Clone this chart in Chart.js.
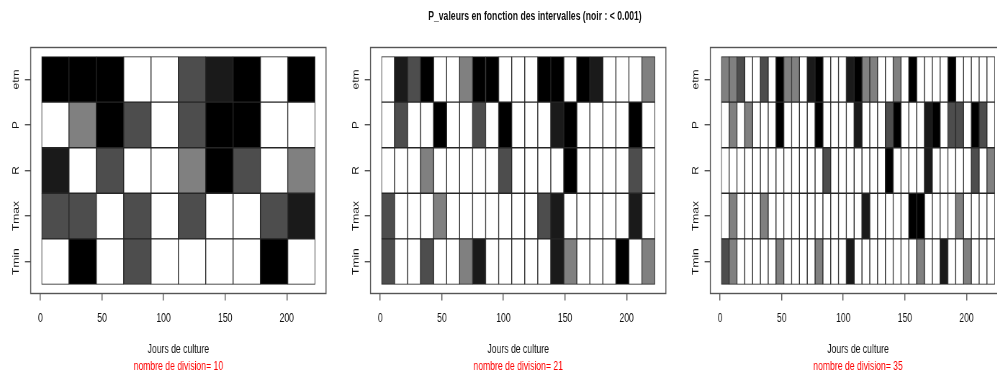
<!DOCTYPE html>
<html>
<head>
<meta charset="utf-8">
<title>P_valeurs en fonction des intervalles</title>
<script src="https://cdn.jsdelivr.net/npm/chart.js@4.4.1/dist/chart.umd.min.js"></script>
<style>
  html, body { margin: 0; padding: 0; width: 997px; height: 376px; overflow: hidden; background: #fff; }
  #stage { position: absolute; left: 0; top: 0; width: 1416px; height: 376px;
           transform: scaleX(0.72); transform-origin: 0 0; }
  #main-title { position: absolute; left: 0; top: 9px; width: 1486px; text-align: center;
                font: bold 12px "Liberation Sans", Arial, sans-serif; line-height: 14px; color: #111; }
  .panel { position: absolute; top: 0; width: 472px; height: 376px; }
</style>
</head>
<body>
<div id="stage">
  <div id="main-title">P_valeurs en fonction des intervalles (noir : &lt; 0.001)</div>
  <div class="panel" style="left:0px"><canvas id="c10" width="472" height="376"></canvas></div>
  <div class="panel" style="left:472px"><canvas id="c21" width="472" height="376"></canvas></div>
  <div class="panel" style="left:944px"><canvas id="c35" width="472" height="376"></canvas></div>
</div>
<script>
// Variables tested, top to bottom
const ROWS = ['etm', 'P', 'R', 'Tmax', 'Tmin'];
const X_TICKS = [0, 50, 100, 150, 200];
// Growing season (days) split into equal intervals
const DAY_FIRST = 1;
const DAY_LAST = 223;

// Significance class of each interval:
// 0: p >= 0.1, 1: p < 0.1, 2: p < 0.05, 3: p < 0.01, 4: p < 0.001 (noir)
const CLASS_COLORS = ['#ffffff', '#808080', '#4d4d4d', '#1a1a1a', '#000000'];

// 10 divisions
const etm_10  = [4, 4, 4, 0, 0, 2, 3, 4, 0, 4];
const P_10    = [0, 1, 4, 2, 0, 2, 4, 4, 0, 0];
const R_10    = [3, 0, 2, 0, 0, 1, 4, 2, 0, 1];
const Tmax_10 = [2, 2, 0, 2, 0, 2, 0, 0, 2, 3];
const Tmin_10 = [0, 4, 0, 2, 0, 0, 0, 0, 4, 0];

// 21 divisions
const etm_21  = [0, 3, 2, 4, 0, 0, 1, 4, 4, 0, 0, 0, 4, 4, 0, 4, 3, 0, 0, 0, 1];
const P_21    = [0, 2, 0, 0, 4, 0, 0, 2, 0, 4, 0, 0, 0, 3, 4, 0, 0, 0, 0, 4, 0];
const R_21    = [0, 0, 0, 1, 0, 0, 0, 0, 0, 2, 0, 0, 0, 0, 4, 0, 0, 0, 0, 2, 0];
const Tmax_21 = [2, 0, 0, 0, 1, 0, 0, 0, 0, 0, 0, 0, 2, 3, 0, 0, 0, 0, 0, 3, 0];
const Tmin_21 = [2, 0, 0, 2, 0, 0, 1, 3, 0, 0, 0, 0, 0, 3, 1, 0, 0, 0, 4, 0, 1];

// 35 divisions
const etm_35  = [1, 1, 2, 0, 0, 2, 0, 4, 1, 1, 0, 3, 4, 0, 0, 0, 3, 4, 1, 1, 0, 0, 1, 0, 4, 0, 0, 0, 0, 4, 0, 0, 0, 0, 0];
const P_35    = [0, 1, 0, 1, 0, 0, 0, 4, 0, 0, 0, 0, 4, 0, 0, 0, 0, 3, 0, 0, 0, 2, 4, 0, 0, 0, 3, 4, 0, 2, 2, 0, 4, 2, 0];
const R_35    = [0, 0, 0, 0, 0, 0, 0, 0, 0, 0, 0, 0, 0, 2, 0, 0, 0, 0, 0, 0, 0, 4, 0, 0, 0, 0, 3, 0, 0, 0, 0, 0, 2, 0, 1];
const Tmax_35 = [0, 1, 0, 0, 0, 1, 0, 0, 0, 0, 0, 0, 0, 0, 0, 0, 0, 0, 3, 0, 0, 0, 0, 0, 4, 4, 0, 0, 0, 0, 1, 0, 0, 0, 0];
const Tmin_35 = [2, 1, 0, 0, 0, 0, 0, 1, 0, 0, 0, 0, 1, 0, 0, 0, 3, 0, 0, 0, 0, 0, 0, 0, 0, 1, 0, 0, 3, 0, 0, 1, 0, 0, 0];

Chart.defaults.font.family = '"Liberation Sans", Arial, sans-serif';
Chart.defaults.font.size = 12;
Chart.defaults.color = '#111';

// Plot frame around the whole plotting region
const frame = {
  id: 'frame',
  afterDraw(chart) {
    const { ctx, chartArea: a } = chart;
    ctx.save();
    ctx.strokeStyle = '#555';
    ctx.lineWidth = 1.4;
    ctx.strokeRect(a.left, a.top, a.right - a.left, a.bottom - a.top);
    ctx.restore();
  }
};

function drawPanel(canvasId, rowValues) {
  const divisions = rowValues[0].length;
  const step = (DAY_LAST - DAY_FIRST) / divisions;
  const datasets = [];
  for (let j = 0; j < divisions; j++) {
    const x0 = DAY_FIRST + j * step;
    const x1 = DAY_FIRST + (j + 1) * step;
    datasets.push({
      data: ROWS.map((name, i) => ({ y: i + 1, x: [x0, x1] })),
      backgroundColor: rowValues.map(v => CLASS_COLORS[v[j]]),
      borderColor: '#262626',
      borderWidth: 1,
      borderSkipped: false,
      grouped: false,
      barPercentage: 1,
      categoryPercentage: 1
    });
  }
  const pad = 0.04 * (DAY_LAST - DAY_FIRST);

  new Chart(document.getElementById(canvasId), {
    type: 'bar',
    data: { datasets },
    options: {
      indexAxis: 'y',
      responsive: false,
      animation: false,
      events: [],
      layout: { padding: { left: 0, right: 19.2, top: 47.5, bottom: 0 } },
      plugins: {
        legend: { display: false },
        tooltip: { enabled: false },
        subtitle: {
          display: true,
          position: 'bottom',
          fullSize: false,
          text: 'nombre de division= ' + divisions,
          color: '#ff0000',
          font: { size: 12, weight: 'normal' },
          padding: { top: 0, bottom: 2.5 }
        }
      },
      scales: {
        x: {
          type: 'linear',
          min: DAY_FIRST - pad,
          max: DAY_LAST + pad,
          offset: false,
          afterBuildTicks: s => { s.ticks = X_TICKS.map(v => ({ value: v })); },
          afterFit: s => { s.height = 65.6; },
          grid: { offset: false, drawOnChartArea: false, drawTicks: true, tickLength: 7, color: '#555', lineWidth: 1.4 },
          border: { display: false },
          ticks: { padding: 10.8, color: '#111', maxRotation: 0, autoSkip: false },
          title: {
            display: true,
            text: 'Jours de culture',
            color: '#111',
            font: { size: 12 },
            padding: { top: 0, bottom: 1.9 }
          }
        },
        y: {
          type: 'linear',
          min: 0.3,
          max: 5.7,
          reverse: true,
          offset: false,
          afterBuildTicks: s => { s.ticks = ROWS.map((name, i) => ({ value: i + 1 })); },
          afterFit: s => { s.width = 42.6; },
          grid: { offset: false, drawOnChartArea: false, drawTicks: true, tickLength: 8, color: '#555', lineWidth: 1.4 },
          border: { display: false },
          ticks: {
            callback: v => ROWS[Math.round(v) - 1],
            minRotation: 90,
            maxRotation: 90,
            crossAlign: 'center',
            padding: -3,
            color: '#111',
            autoSkip: false
          }
        }
      }
    },
    plugins: [frame]
  });
}

drawPanel('c10', [etm_10, P_10, R_10, Tmax_10, Tmin_10]);
drawPanel('c21', [etm_21, P_21, R_21, Tmax_21, Tmin_21]);
drawPanel('c35', [etm_35, P_35, R_35, Tmax_35, Tmin_35]);
</script>
</body>
</html>
